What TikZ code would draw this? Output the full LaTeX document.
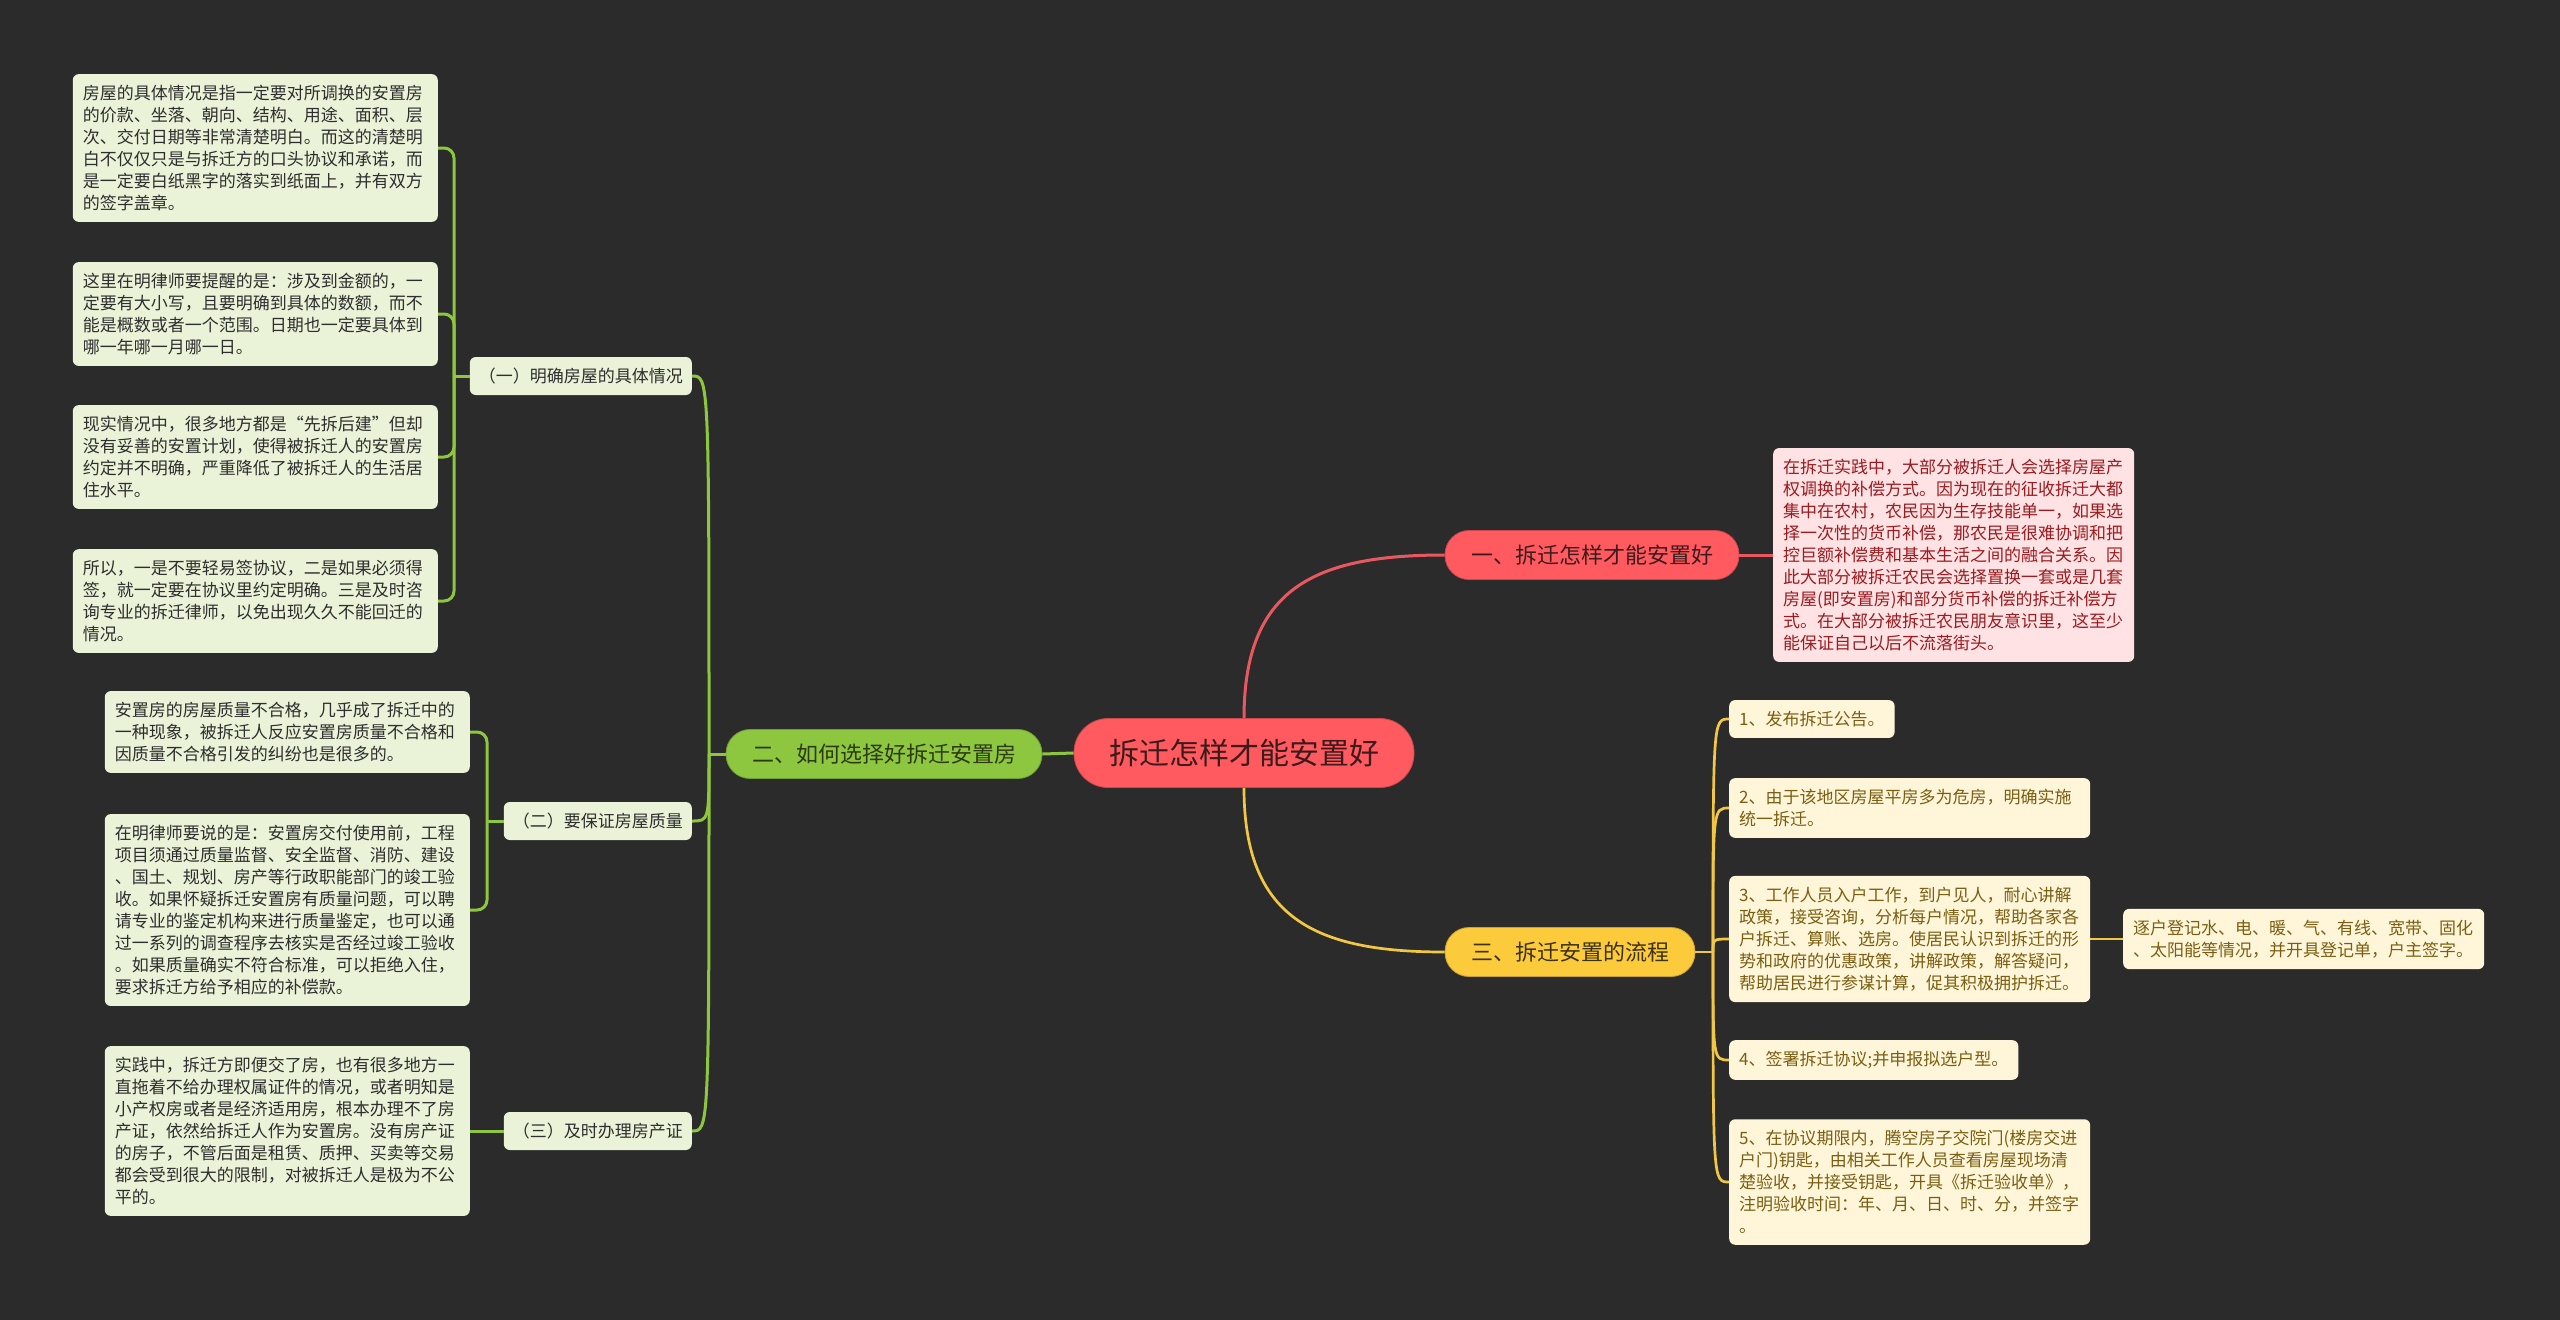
\documentclass[tikz,border=0pt]{standalone}
\usepackage{fontspec}
\setmainfont{Noto Sans CJK SC}
\usepackage{xcolor}
\definecolor{Board}{HTML}{2B2B2B}
\definecolor{RootRed}{HTML}{FF5A5F}
\definecolor{RootInk}{HTML}{3D1A1C}
\definecolor{RedLine}{HTML}{E8585E}
\definecolor{PinkBg}{HTML}{FFE2E3}
\definecolor{PinkInk}{HTML}{9A1B20}
\definecolor{Lime}{HTML}{8DC63F}
\definecolor{LimeInk}{HTML}{2C3A12}
\definecolor{LimeLine}{HTML}{8DC63F}
\definecolor{SageBg}{HTML}{EAF2D7}
\definecolor{SageInk}{HTML}{2E2E2E}
\definecolor{Gold}{HTML}{FBCB3C}
\definecolor{GoldInk}{HTML}{3D3110}
\definecolor{GoldLine}{HTML}{F2C744}
\definecolor{CreamBg}{HTML}{FFF6D9}
\definecolor{CreamInk}{HTML}{7A5E12}
\usepackage{tikz}
\usetikzlibrary{backgrounds}

\begin{document}
\begin{tikzpicture}[x=1pt, y=-1pt,
  rootbox/.style={rectangle, rounded corners=34pt, fill=RootRed, draw=RootRed!80!black,
                  line width=0.8pt, text=RootInk, minimum height=69pt, inner xsep=35pt,
                  inner ysep=0pt, font=\fontsize{30}{36}\selectfont},
  branch/.style={rectangle, rounded corners=24pt, line width=0.8pt, minimum height=49pt,
                 inner xsep=26pt, inner ysep=0pt, font=\fontsize{22}{26}\selectfont},
  subnote/.style={rectangle, rounded corners=6pt, fill=SageBg, text=SageInk,
                  minimum height=38pt, inner xsep=9pt, inner ysep=0pt,
                  font=\fontsize{17}{22}\selectfont},
  leaf/.style={rectangle, rounded corners=6pt, align=left, inner xsep=10pt,
               inner ysep=11pt, font=\fontsize{17}{22}\selectfont},
  sagenote/.style={leaf, fill=SageBg, text=SageInk, text width=345pt},
  pinknote/.style={leaf, fill=PinkBg, text=PinkInk, text width=341pt},
  creamnote/.style={leaf, fill=CreamBg, text=CreamInk},
  wide/.style={text width=341pt},
  gline/.style={draw=LimeLine, line width=3pt},
  rline/.style={draw=RedLine, line width=3pt},
  yline/.style={draw=GoldLine, line width=2.7pt}
]
\useasboundingbox (0,0) rectangle (2560,1320);
\begin{scope}[on background layer]
  \fill[Board] (0,0) rectangle (2560,1320);
\end{scope}

%% ---- Centre ----
\node[rootbox] (root) at (1244,753) {拆迁怎样才能安置好};

%% ---- Main branches ----
\node[branch, fill=RootRed, draw=RootRed!80!black, text=RootInk] (way) at (1592,555) {一、拆迁怎样才能安置好};
\node[branch, fill=Lime, draw=Lime!80!black, text=LimeInk] (choose) at (884,754) {二、如何选择好拆迁安置房};
\node[branch, fill=Gold, draw=Gold!80!black, text=GoldInk] (flow) at (1570,952) {三、拆迁安置的流程};

%% ---- Right top: detail of branch one ----
\node[pinknote, anchor=west] (way1) at (1773,555) {在拆迁实践中，大部分被拆迁人会选择房屋产\\权调换的补偿方式。因为现在的征收拆迁大都\\集中在农村，农民因为生存技能单一，如果选\\择一次性的货币补偿，那农民是很难协调和把\\控巨额补偿费和基本生活之间的融合关系。因\\此大部分被拆迁农民会选择置换一套或是几套\\房屋(即安置房)和部分货币补偿的拆迁补偿方\\式。在大部分被拆迁农民朋友意识里，这至少\\能保证自己以后不流落街头。};

%% ---- Left: parts of branch two ----
\node[subnote, anchor=east] (clear) at (692,376) {（一）明确房屋的具体情况};
\node[subnote, anchor=east] (quality) at (692,821) {（二）要保证房屋质量};
\node[subnote, anchor=east] (cert) at (692,1131) {（三）及时办理房产证};

\node[sagenote, anchor=east] (clear1) at (438,148) {房屋的具体情况是指一定要对所调换的安置房\\的价款、坐落、朝向、结构、用途、面积、层\\次、交付日期等非常清楚明白。而这的清楚明\\白不仅仅只是与拆迁方的口头协议和承诺，而\\是一定要白纸黑字的落实到纸面上，并有双方\\的签字盖章。};
\node[sagenote, anchor=east] (clear2) at (438,314) {这里在明律师要提醒的是：涉及到金额的，一\\定要有大小写，且要明确到具体的数额，而不\\能是概数或者一个范围。日期也一定要具体到\\哪一年哪一月哪一日。};
\node[sagenote, anchor=east] (clear3) at (438,457) {现实情况中，很多地方都是“先拆后建”但却\\没有妥善的安置计划，使得被拆迁人的安置房\\约定并不明确，严重降低了被拆迁人的生活居\\住水平。};
\node[sagenote, anchor=east] (clear4) at (438,601) {所以，一是不要轻易签协议，二是如果必须得\\签，就一定要在协议里约定明确。三是及时咨\\询专业的拆迁律师，以免出现久久不能回迁的\\情况。};

\node[sagenote, anchor=east] (quality1) at (470,732) {安置房的房屋质量不合格，几乎成了拆迁中的\\一种现象，被拆迁人反应安置房质量不合格和\\因质量不合格引发的纠纷也是很多的。};
\node[sagenote, anchor=east] (quality2) at (470,910) {在明律师要说的是：安置房交付使用前，工程\\项目须通过质量监督、安全监督、消防、建设\\、国土、规划、房产等行政职能部门的竣工验\\收。如果怀疑拆迁安置房有质量问题，可以聘\\请专业的鉴定机构来进行质量鉴定，也可以通\\过一系列的调查程序去核实是否经过竣工验收\\。如果质量确实不符合标准，可以拒绝入住，\\要求拆迁方给予相应的补偿款。};

\node[sagenote, anchor=east] (cert1) at (470,1131) {实践中，拆迁方即便交了房，也有很多地方一\\直拖着不给办理权属证件的情况，或者明知是\\小产权房或者是经济适用房，根本办理不了房\\产证，依然给拆迁人作为安置房。没有房产证\\的房子，不管后面是租赁、质押、买卖等交易\\都会受到很大的限制，对被拆迁人是极为不公\\平的。};

%% ---- Right bottom: steps of branch three ----
\node[creamnote, anchor=west] (stage1) at (1729,719) {1、发布拆迁公告。};
\node[creamnote, wide, anchor=west] (stage2) at (1729,808) {2、由于该地区房屋平房多为危房，明确实施\\统一拆迁。};
\node[creamnote, wide, anchor=west] (stage3) at (1729,939) {3、工作人员入户工作，到户见人，耐心讲解\\政策，接受咨询，分析每户情况，帮助各家各\\户拆迁、算账、选房。使居民认识到拆迁的形\\势和政府的优惠政策，讲解政策，解答疑问，\\帮助居民进行参谋计算，促其积极拥护拆迁。};
\node[creamnote, wide, anchor=west] (stage3a) at (2123,939) {逐户登记水、电、暖、气、有线、宽带、固化\\、太阳能等情况，并开具登记单，户主签字。};
\node[creamnote, anchor=west] (stage4) at (1729,1060) {4、签署拆迁协议;并申报拟选户型。};
\node[creamnote, wide, anchor=west] (stage5) at (1729,1182) {5、在协议期限内，腾空房子交院门(楼房交进\\户门)钥匙，由相关工作人员查看房屋现场清\\楚验收，并接受钥匙，开具《拆迁验收单》，\\注明验收时间：年、月、日、时、分，并签字\\。};

%% ---- Centre to branches ----
\draw[rline] (root.north) .. controls +(0,-130) and +(-130,0) .. (way.west);
\draw[yline] (root.south) .. controls +(0,130) and +(-130,0) .. (flow.west);
\draw[gline] (root.west) -- (choose.east);

%% ---- Branch one ----
\draw[rline] (way.east) -- (way1.west);

%% ---- Branch two: trunk hooks into each part ----
\coordinate (choosejoint) at (709,754);
\draw[gline] (choose.west) -- (choosejoint);
\foreach \part in {clear,quality,cert}
  \draw[gline] (choosejoint) .. controls (choosejoint |- \part.east) .. (\part.east);

% elbows from each part to its notes
\coordinate (clearjoint) at (454,376);
\draw[gline] (clear.west) -- (clearjoint);
\foreach \note in {clear1,clear2,clear3,clear4}
  \draw[gline, rounded corners=10pt] (clearjoint) |- (\note.east);
\coordinate (qualityjoint) at (487,821);
\draw[gline] (quality.west) -- (qualityjoint);
\foreach \note in {quality1,quality2}
  \draw[gline, rounded corners=10pt] (qualityjoint) |- (\note.east);
\draw[gline] (cert.west) -- (cert1.east);

%% ---- Branch three ----
\coordinate (flowjoint) at (1713,952);
\draw[yline] (flow.east) -- (flowjoint);
\foreach \stage in {stage1,stage2,stage3,stage4,stage5}
  \draw[yline] (flowjoint) .. controls (flowjoint |- \stage.west) .. (\stage.west);
\draw[yline] (stage3.east) -- (stage3a.west);

\end{tikzpicture}
\end{document}
